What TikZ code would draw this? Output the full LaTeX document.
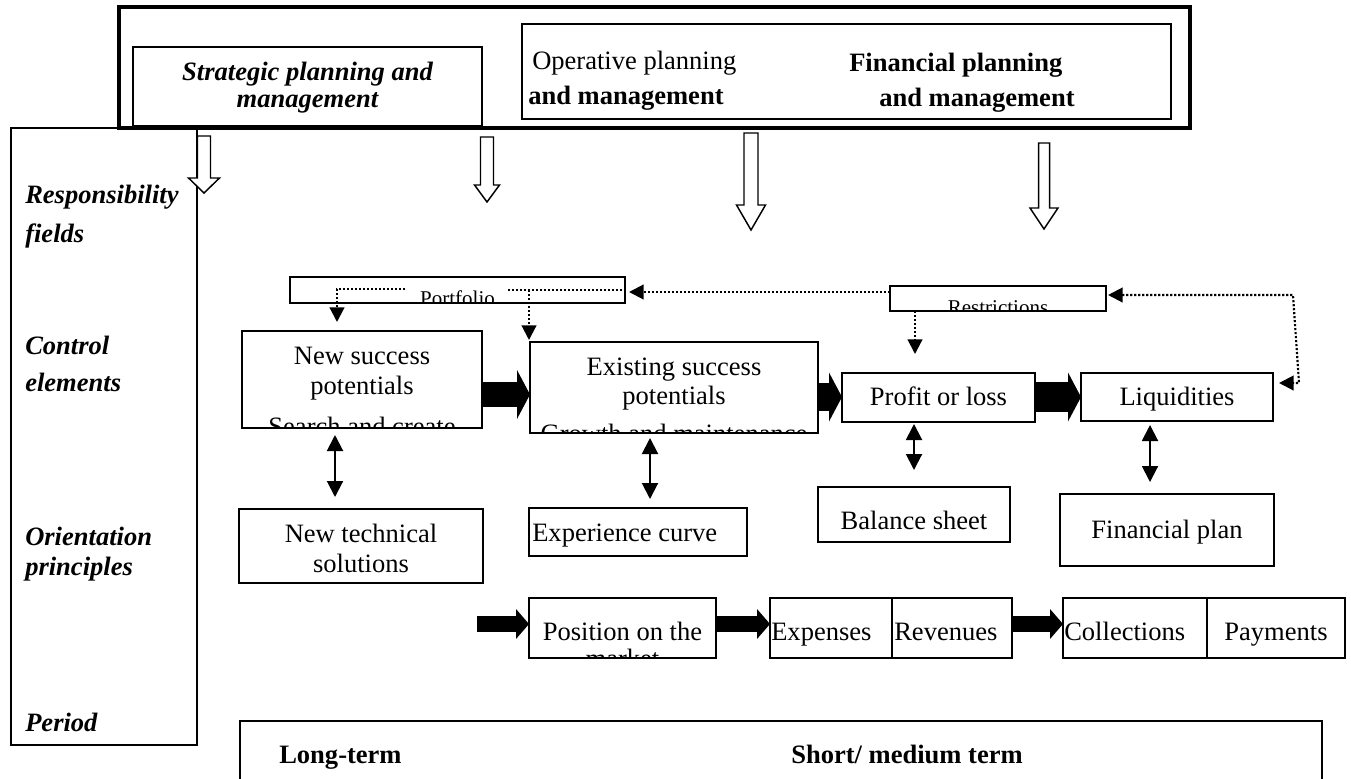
\documentclass[tikz,border=0pt]{standalone}
\usepackage{fontspec}
\setmainfont{Liberation Serif}
\usetikzlibrary{arrows.meta,calc,fit}
\newcommand\hollowdn[6]{\filldraw[fill=white,draw=black,line width=1.1pt,line join=miter] (#1-#5,#2) -- (#1+#5,#2) -- (#1+#5,#3) -- (#1+#6,#3) -- (#1,#4) -- (#1-#6,#3) -- (#1-#5,#3) -- cycle;}
\begin{document}
\begin{tikzpicture}[x=0.75pt,y=-0.75pt,
  box/.style={draw=black, line width=1.3pt, inner sep=0pt, outer sep=0pt},
  thinbox/.style={draw=black, line width=1.1pt, inner sep=0pt, outer sep=0pt},
  txt/.style={inner sep=0pt, anchor=base, font=\fontsize{19.9}{24}\selectfont},
  txtl/.style={txt, anchor=base west},
  btxt/.style={txt, font=\fontsize{19.9}{24}\selectfont\bfseries},
  btxtl/.style={btxt, anchor=base west},
  bitxt/.style={txt, font=\fontsize{19.9}{24}\selectfont\bfseries\itshape},
  lab/.style={bitxt, anchor=base west},
  stxt/.style={txt, font=\fontsize{15.75}{18}\selectfont},
  fatbig/.style={draw=black, line width=#1, line cap=butt,
    -{Triangle[length=9.75pt,width=36.75pt,line width=0pt]}},
  fatsmall/.style={draw=black, line width=12pt, line cap=butt,
    -{Triangle[length=9.75pt,width=22.5pt,line width=0pt]}},
  dbl/.style={draw=black, line width=1.5pt,
    {Triangle[length=12pt,width=12pt]}-{Triangle[length=12pt,width=12pt]}},
  dotline/.style={draw=black, line width=1.6pt, dash pattern=on 1.6pt off 1.4pt},
  dotarr/.style={dotline, -{Triangle[length=11pt,width=11pt]}},
  dotarrtwo/.style={dotline, {Triangle[length=11pt,width=11pt]}-{Triangle[length=11pt,width=11pt]}}
]
\useasboundingbox (0,0) rectangle (1351,778);

% frames
\node[box, line width=2.4pt, fit={(119,7) (1190,128)}] (top) {};
\node[box, fit={(133,47) (482,126)}] (sp) {};
\node[box, fit={(522,24) (1171,119)}] (of) {};
\node[box, line width=1.6pt, fit={(11,128) (197,745)}] (left) {};

% top texts
\node[bitxt] (sp1) at (307.5,80) {Strategic planning and};
\node[bitxt] (sp2) at (307.5,107) {management};
\node[txtl] (op1) at (532,69) {Operative planning};
\node[btxtl] (op2) at (528,104) {and management};
\node[btxtl] (fi1) at (849,71) {Financial planning};
\node[btxtl] (fi2) at (879,106) {and management};

% left labels
\node[lab] (l1) at (25,203) {Responsibility};
\node[lab] (l2) at (25,242) {fields};
\node[lab] (l3) at (25,354) {Control};
\node[lab] (l4) at (25,391) {elements};
\node[lab] (l5) at (25,545) {Orientation};
\node[lab] (l6) at (25,575) {principles};
\node[lab] (l7) at (25,731) {Period};

% hollow arrows
\hollowdn{204}{136}{178}{193}{6.5}{15.5}
\hollowdn{487}{137}{185}{202}{6.5}{12.5}
\hollowdn{751}{133}{205}{230}{7}{14.5}
\hollowdn{1044}{143}{208}{229}{5.5}{14}

% portfolio and restrictions
\node[thinbox, fit={(290,277) (625,303)}] (pf) {};
\begin{scope}
  \clip (pf.south west) rectangle (pf.north east);
  \node[stxt] (pft) at (457.5,305) {Portfolio};
\end{scope}
\node[thinbox, fit={(890,286) (1106,311)}] (rs) {};
\begin{scope}
  \clip (rs.south west) rectangle (rs.north east);
  \node[stxt] (rst) at (998,314) {Restrictions};
\end{scope}

% control elements
\node[box, fit={(242,331) (482,428)}] (ns) {};
\node[txt] (ns1) at (362,364) {New success};
\node[txt] (ns2) at (362,394) {potentials};
\begin{scope}
  \clip (ns.south west) rectangle (ns.north east);
  \node[txt] (ns3) at (362,435) {Search and create};
\end{scope}

\node[box, fit={(530,342) (818,433)}] (es) {};
\node[txt] (es1) at (674,375) {Existing success};
\node[txt] (es2) at (674,404) {potentials};
\begin{scope}
  \clip (es.south west) rectangle (es.north east);
  \node[txt] (es3) at (674,442) {Growth and maintenance};
\end{scope}

\node[box, fit={(842,373) (1035,422)}] (pl) {};
\node[txt] (plt) at (938.5,405) {Profit or loss};
\node[box, fit={(1081,373) (1273,421)}] (lq) {};
\node[txt] (lqt) at (1177,405) {Liquidities};

% orientation principles
\node[box, fit={(239,509) (483,583)}] (nt) {};
\node[txt] (nt1) at (361,542) {New technical};
\node[txt] (nt2) at (361,572) {solutions};
\node[box, fit={(529,508) (747,556)}] (ec) {};
\node[txtl] (ect) at (532,541) {Experience curve};
\node[box, fit={(818,487) (1010,542)}] (bs) {};
\node[txt] (bst) at (914,529) {Balance sheet};
\node[box, fit={(1060,494) (1274,566)}] (fp) {};
\node[txt] (fpt) at (1167,538) {Financial plan};

% bottom row
\node[box, fit={(529,598) (716,658)}] (pm) {};
\node[txt] (pm1) at (622.5,640) {Position on the};
\begin{scope}
  \clip (pm.south west) rectangle (pm.north east);
  \node[txt] (pm2) at (622.5,667) {market};
\end{scope}
\node[box, fit={(770,598) (892,658)}] (ex) {};
\node[txtl] (ext) at (771,640) {Expenses};
\node[box, fit={(892,598) (1012,658)}] (rv) {};
\node[txtl] (rvt) at (894,640) {Revenues};
\node[box, fit={(1063,598) (1207,658)}] (co) {};
\node[txtl] (cot) at (1064,640) {Collections};
\node[box, fit={(1207,598) (1345,658)}] (pa) {};
\node[txt] (pat) at (1276,640) {Payments};

% period box
\node[box, fit={(240,721) (1322,785)}] (pb) {};
\node[btxtl] (lt) at (279,763) {Long-term};
\node[btxtl] (st) at (791,763) {Short/ medium term};

% fat arrows
\draw[fatbig=18.75pt] (ns.east |- 0,394.5) -- (es.west |- 0,394.5);
\draw[fatbig=21pt] (es.east |- 0,397) -- (pl.west |- 0,397);
\draw[fatbig=22.5pt] (pl.east |- 0,397) -- (lq.west |- 0,397);
\coordinate (bstart) at (477,624);
\draw[fatsmall] (bstart) -- (pm.west |- bstart);
\draw[fatsmall] (pm.east |- bstart) -- (ex.west |- bstart);
\draw[fatsmall] (rv.east |- bstart) -- (co.west |- bstart);

% double arrows
\draw[dbl] ($(ns.south -| 335,0)+(0,7)$) -- ($(nt.north -| 335,0)+(0,-12)$);
\draw[dbl] ($(es.south -| 650,0)+(0,5)$) -- ($(ec.north -| 650,0)+(0,-9)$);
\draw[dbl] ($(pl.south -| 914,0)+(0,2)$) -- ($(bs.north -| 914,0)+(0,-17)$);
\draw[dbl] ($(lq.south -| 1150,0)+(0,4)$) -- ($(fp.north -| 1150,0)+(0,-12)$);

% dotted connectors
\draw[dotarr] ($(pf.north west)+(115,12)$) -| ($(ns.north west)+(95,-9)$);
\draw[dotline] ($(pf.north east)+(-3,13)$) -- ($(pf.north west)+(217,13)$);
\draw[dotarr] ($(pf.north west)+(239,13)$) -- ($(es.north west)+(-1,-2)$);
\draw[dotarr] (rs.west |- 0,292) -- ($(pf.east |- 0,292)+(4,0)$);
\draw[dotarr] (rs.south -| 915,0) -- ($(pl.north -| 915,0)+(0,-19)$);
\draw[dotarrtwo] ($(rs.east |- 0,295)+(2,0)$) -- (1293,295) -- (1299,383) -- ($(lq.east |- 0,383)+(6,0)$);
\end{tikzpicture}
\end{document}
